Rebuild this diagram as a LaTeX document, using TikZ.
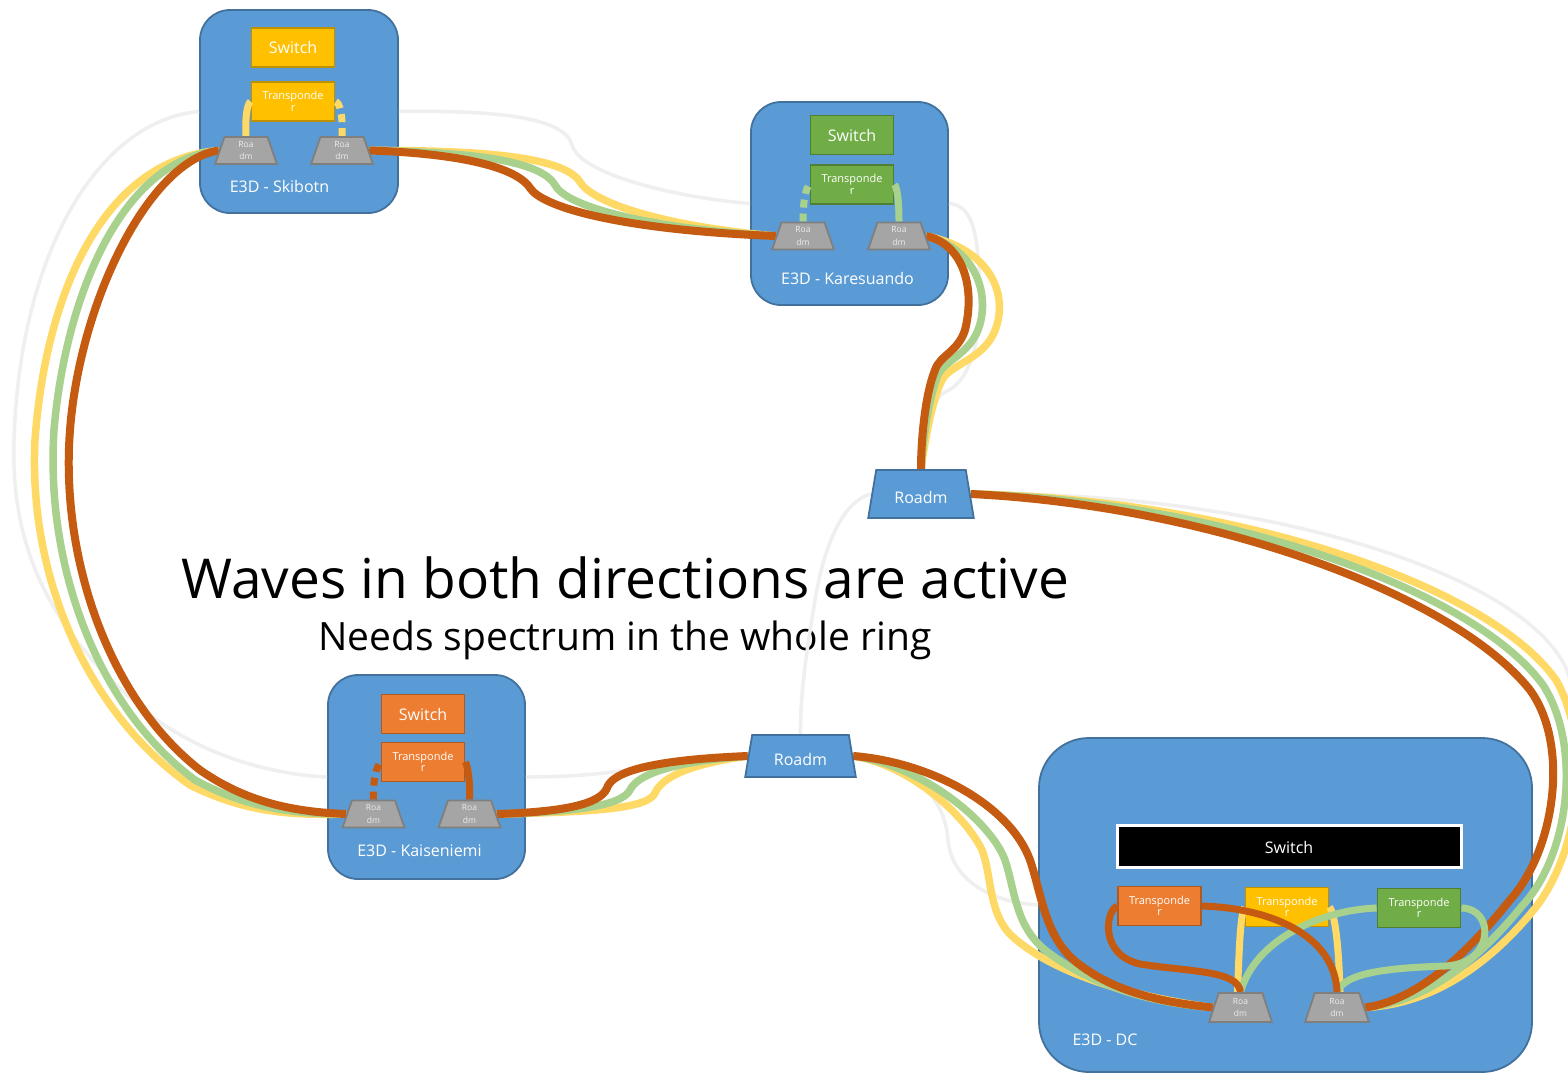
\documentclass[tikz,border=0pt]{standalone}
\usepackage{fontspec}
\setmainfont{Open Sans}
\usetikzlibrary{shapes.geometric}
\pgfdeclarelayer{bg}
\pgfdeclarelayer{cab}
\pgfsetlayers{bg,cab,main}
\definecolor{siteblue}{HTML}{5B9BD5}
\definecolor{siteedge}{HTML}{41719C}
\definecolor{rgray}{HTML}{A5A5A5}
\definecolor{rgrayedge}{HTML}{7F7F7F}
\definecolor{ylw}{HTML}{FFC000}
\definecolor{ylwedge}{HTML}{BF9000}
\definecolor{grn}{HTML}{70AD47}
\definecolor{grnedge}{HTML}{507E32}
\definecolor{org}{HTML}{ED7D31}
\definecolor{orgedge}{HTML}{AE5A21}
\definecolor{cabor}{HTML}{C55A11}
\definecolor{cabye}{HTML}{FFD966}
\definecolor{cabgr}{HTML}{A9D18E}
\definecolor{cabgy}{HTML}{EFEFEF}
\definecolor{rtext}{HTML}{EDEDED}
\begin{document}
\begin{tikzpicture}[x=1pt,y=-1pt,
  site/.style={draw=siteedge, fill=siteblue, line width=1.8pt, rounded corners=30pt, inner sep=0},
  boxsw/.style={line width=1.8pt, inner sep=0, text=white, font=\fontsize{16}{16}\selectfont, minimum width=83pt, minimum height=39pt},
  boxtr/.style={line width=1.8pt, inner sep=0, text=white, align=center, font=\fontsize{11}{11.5}\selectfont, minimum width=83pt, minimum height=39pt},
  ybox/.style={draw=ylwedge, fill=ylw},
  gbox/.style={draw=grnedge, fill=grn},
  obox/.style={draw=orgedge, fill=org},
  roadms/.style={trapezium, trapezium angle=80, trapezium stretches, draw=rgrayedge, fill=rgray, line width=1.8pt, minimum width=62pt, minimum height=27pt, inner sep=0, align=center, text=rtext, font=\fontsize{8.5}{12.5}\selectfont},
  roadmb/.style={trapezium, trapezium stretches, draw=siteedge, fill=siteblue, line width=1.8pt, inner sep=0, text=white, font=\fontsize{16}{16}\selectfont},
  sitelabel/.style={text=white, font=\fontsize{16}{16}\selectfont, inner sep=0},
  cor/.style={draw=cabor, line width=8pt},
  cye/.style={draw=cabye, line width=7.5pt},
  cgr/.style={draw=cabgr, line width=7.5pt},
  cgy/.style={draw=cabgy, line width=3.5pt},
  lnk/.style={line width=7pt},
  brk/.style={dash pattern=on 8pt off 6pt}
]
\useasboundingbox (0,0) rectangle (1568,1074);
\begin{pgfonlayer}{bg}
\fill[white] (0,0) rectangle (1568,1074);
% sites
\node[site, minimum width=198pt, minimum height=203pt] (sk) at (299,111.5) {};
\node[site, minimum width=197pt, minimum height=203pt] (ka) at (849.5,203.5) {};
\node[site, minimum width=197pt, minimum height=204pt] (ki) at (426.5,777) {};
\node[site, minimum width=493pt, minimum height=334pt, rounded corners=50pt] (dc) at (1285.5,905) {};
% Skibotn
\node[boxsw, ybox] (sk-sw) at (293,47.5) {Switch};
\node[boxtr, ybox] (sk-tr) at (293,101.5) {Transponde\\r};
\node[sitelabel] (sk-lab) at (279.5,186) {E3D - Skibotn};
% Karesuando
\node[boxsw, gbox] (ka-sw) at (852,135) {Switch};
\node[boxtr, gbox] (ka-tr) at (852,184.5) {Transponde\\r};
\node[sitelabel] (ka-lab) at (847.5,278) {E3D - Karesuando};
% Kaiseniemi
\node[boxsw, obox] (ki-sw) at (423,714) {Switch};
\node[boxtr, obox] (ki-tr) at (423,762) {Transponde\\r};
\node[sitelabel] (ki-lab) at (419.5,851) {E3D - Kaiseniemi};
% DC
\node[boxsw, draw=white, fill=black, line width=3pt, minimum width=344pt, minimum height=42pt, text height=15pt] (dc-sw) at (1289,846) {Switch};
\node[boxtr, obox] (dc-to) at (1159.5,906) {Transponde\\r};
\node[boxtr, ybox] (dc-ty) at (1287,907) {Transponde\\r};
\node[boxtr, gbox] (dc-tg) at (1419,908) {Transponde\\r};
\node[sitelabel] (dc-lab) at (1105,1040) {E3D - DC};
% title
\node[anchor=base west, inner sep=0, font=\fontsize{55}{55}\selectfont] (title) at (181,598) {Waves in both directions are active};
\node[anchor=base west, inner sep=0, font=\fontsize{39}{39}\selectfont] (subtitle) at (318,650) {Needs spectrum in the whole ring};
\end{pgfonlayer}
% roadms (top layer)
\node[roadms] (sk-r1) at (246,150.5) {Roa\\dm};
\node[roadms] (sk-r2) at (342,150.5) {Roa\\dm};
\node[roadms] (ka-r1) at (803,236) {Roa\\dm};
\node[roadms] (ka-r2) at (899,236) {Roa\\dm};
\node[roadms] (ki-r1) at (373.5,814) {Roa\\dm};
\node[roadms] (ki-r2) at (469.5,814) {Roa\\dm};
\node[roadms, minimum width=63pt, minimum height=29pt] (dc-r1) at (1240.5,1007.5) {Roa\\dm};
\node[roadms, minimum width=64pt, minimum height=29pt] (dc-r2) at (1337,1007.5) {Roa\\dm};
\node[roadmb, trapezium angle=76, minimum width=106pt, minimum height=48pt, text height=19pt, text depth=0pt] (rA) at (921,494) {Roadm};
\node[roadmb, trapezium angle=78, minimum width=111pt, minimum height=42pt, text height=18pt, text depth=0pt] (rB) at (800.5,756) {Roadm};
\begin{pgfonlayer}{cab}
% ---- light gray fibres
\draw[cgy] (sk.east) .. controls (500,110) and (565,118) .. (572,145) .. controls (580,175) and (680,198) .. (ka.west);
\draw[cgy] (ka.east) .. controls (975,205) and (978,240) .. (980,290) .. controls (982,350) and (965,385) .. (945,392) .. controls (930,400) and (925,440) .. (rA.north);
\draw[cgy] (rA.east) .. controls (1250,490) and (1520,570) .. (1566,668) .. controls (1590,730) and (1580,855) .. (1532,912) .. controls (1490,962) and (1435,1004) .. (dc-r2.east);
\draw[cgy] (rA.west) .. controls (845,500) and (825,540) .. (815,600) .. controls (805,660) and (800,700) .. (rB.north);
\draw[cgy] (rB.east) .. controls (910,765) and (945,795) .. (948,840) .. controls (952,880) and (990,902) .. (dc.west);
\draw[cgy] (ki.east) .. controls (560,777) and (600,775) .. (640,768) .. controls (680,762) and (720,758) .. (rB.west);
\draw[cgy] (sk.west) .. controls (100,120) and (20,250) .. (14,440) .. controls (10,560) and (60,640) .. (150,715) .. controls (210,760) and (280,775) .. (ki.west);
% ---- Skibotn -> Karesuando
\draw[cye] (sk-r2.east) .. controls (490,150) and (565,158) .. (580,182) .. controls (592,202) and (660,226) .. (ka-r1.west);
\draw[cgr] (sk-r2.east) .. controls (470,152) and (540,160) .. (555,185) .. controls (565,205) and (640,228) .. (ka-r1.west);
\draw[cor] (sk-r2.east) .. controls (450,153) and (515,165) .. (530,188) .. controls (542,207) and (620,230) .. (ka-r1.west);
% ---- Karesuando -> Roadm A
\draw[cye] (ka-r2.east) .. controls (995,250) and (1010,300) .. (993,335) .. controls (980,360) and (950,365) .. (942,380) .. controls (932,400) and (925,440) .. (rA.north);
\draw[cgr] (ka-r2.east) .. controls (980,250) and (990,300) .. (978,330) .. controls (968,355) and (945,360) .. (938,375) .. controls (928,400) and (923,440) .. (rA.north);
\draw[cor] (ka-r2.east) .. controls (965,245) and (975,290) .. (965,330) .. controls (958,352) and (940,355) .. (935,370) .. controls (925,395) and (921,440) .. (rA.north);
% ---- Roadm A -> DC
\draw[cye] (rA.east) .. controls (1220,498) and (1485,580) .. (1556,680) .. controls (1593,745) and (1580,855) .. (1532,912) .. controls (1490,962) and (1435,1004) .. (dc-r2.east);
\draw[cgr] (rA.east) .. controls (1210,500) and (1470,585) .. (1543,685) .. controls (1582,745) and (1570,855) .. (1522,906) .. controls (1482,955) and (1430,1002) .. (dc-r2.east);
\draw[cor] (rA.east) .. controls (1200,505) and (1450,590) .. (1530,690) .. controls (1570,745) and (1555,850) .. (1510,900) .. controls (1470,950) and (1420,1000) .. (dc-r2.east);
% ---- Roadm B -> DC
\draw[cye] (rB.east) .. controls (910,765) and (965,815) .. (982,850) .. controls (992,875) and (988,915) .. (1013,937) .. controls (1050,970) and (1120,995) .. (dc-r1.west);
\draw[cgr] (rB.east) .. controls (920,765) and (990,820) .. (1005,860) .. controls (1015,890) and (1015,925) .. (1045,950) .. controls (1090,985) and (1150,1003) .. (dc-r1.west);
\draw[cor] (rB.east) .. controls (930,762) and (1010,805) .. (1030,860) .. controls (1042,895) and (1045,940) .. (1080,965) .. controls (1120,995) and (1170,1003) .. (dc-r1.west);
% ---- Kaiseniemi -> Roadm B
\draw[cye] (ki-r2.east) .. controls (600,812) and (648,808) .. (655,793) .. controls (662,777) and (690,764) .. (rB.west);
\draw[cgr] (ki-r2.east) .. controls (580,812) and (622,805) .. (630,790) .. controls (637,775) and (670,762) .. (rB.west);
\draw[cor] (ki-r2.east) .. controls (560,812) and (600,805) .. (607,788) .. controls (612,772) and (650,760) .. (rB.west);
% ---- Skibotn -> Kaiseniemi (left arc)
\draw[cye] (sk-r1.west) .. controls (100,160) and (45,300) .. (35,440) .. controls (28,580) and (90,715) .. (190,785) .. controls (250,815) and (300,815) .. (ki-r1.west);
\draw[cgr] (sk-r1.west) .. controls (120,160) and (65,300) .. (54,430) .. controls (45,570) and (100,710) .. (195,780) .. controls (250,810) and (300,814) .. (ki-r1.west);
\draw[cor] (sk-r1.west) .. controls (150,160) and (80,300) .. (70,430) .. controls (60,560) and (110,700) .. (200,770) .. controls (250,805) and (300,812) .. (ki-r1.west);
% ---- internal links
\draw[lnk, cabye] (sk-r1.north) .. controls (245,118) and (247,104) .. (sk-tr.west);
\draw[lnk, cabye, brk] (sk-r2.north) .. controls (343,115) and (340,103) .. (sk-tr.east);
\draw[lnk, cabgr, brk] (ka-r1.north) .. controls (803,200) and (806,187) .. (ka-tr.west);
\draw[lnk, cabgr] (ka-r2.north) .. controls (899,200) and (897,187) .. (ka-tr.east);
\draw[lnk, cabor, brk] (ki-r1.north) .. controls (373,780) and (376,767) .. (ki-tr.west);
\draw[lnk, cabor] (ki-r2.north) .. controls (470,780) and (468,767) .. (ki-tr.east);
% DC internal
\draw[lnk, cabye] ([xshift=-3pt]dc-r1.north) .. controls (1239,955) and (1240,915) .. (dc-ty.west);
\draw[lnk, cabye] ([xshift=3pt]dc-r2.north) .. controls (1339,955) and (1336,915) .. (dc-ty.east);
\draw[lnk, cabgr] (dc-r1.north) .. controls (1255,940) and (1320,910) .. (dc-tg.west);
\draw[lnk, cabgr] (dc-r2.north) .. controls (1345,972) and (1390,968) .. (1445,966) .. controls (1495,964) and (1495,908) .. (dc-tg.east);
\draw[lnk, cabor] (dc-to.west) .. controls (1105,912) and (1100,955) .. (1140,964) .. controls (1190,972) and (1238,970) .. (dc-r1.north);
\draw[lnk, cabor] (dc-to.east) .. controls (1270,908) and (1335,935) .. (dc-r2.north);
\end{pgfonlayer}
\end{tikzpicture}
\end{document}
